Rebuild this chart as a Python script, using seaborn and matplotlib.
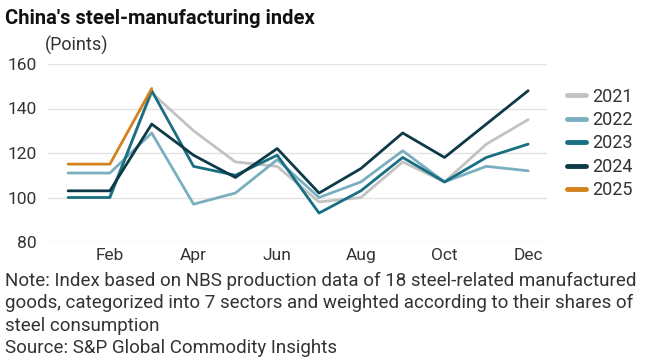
import numpy as np
import pandas as pd
import matplotlib
matplotlib.use("Agg")
import matplotlib.pyplot as plt
import seaborn as sns

months = list(range(1, 13))
month_labels = ["Jan", "Feb", "Mar", "Apr", "May", "Jun", "Jul", "Aug", "Sep", "Oct", "Nov", "Dec"]
years = ["2021", "2022", "2023", "2024", "2025"]
v2021 = [np.nan, 101, 147, 130, 116, 114, 98, 100, 116, 107, 124, 135]
v2022 = [111, 111, 129, 97, 102, 117, 100, 107, 121, 107, 114, 112]
v2023 = [100, 100, 148, 114, 110, 119, 93, 103, 118, 107, 118, 124]
v2024 = [103, 103, 133, 119, 109, 122, 102, 113, 129, 118, 133, 148]
v2025 = [115, 115, 149] + [np.nan] * 9
colors = ["#c2c2c2", "#7aafbf", "#186f82", "#0e3a48", "#d4831c"]

series = {"2021": v2021, "2022": v2022, "2023": v2023, "2024": v2024, "2025": v2025}
rows = []
for y in years:
    for m, v in zip(months, series[y]):
        rows.append({"month": m, "value": v, "year": y})
df = pd.DataFrame(rows)

sns.set_theme(style="white")
plt.rcParams["font.family"] = ["Roboto", "DejaVu Sans"]
txt = "#333333"

fig = plt.figure(figsize=(6.53, 3.62), dpi=100)
ax = fig.add_axes([48 / 653, 1 - 242 / 362, (547 - 48) / 653, (242 - 64) / 362])

for y, c in zip(years, colors):
    d = df[df["year"] == y].dropna()
    sns.lineplot(data=d, x="month", y="value", color=c, linewidth=2.0, ax=ax, label=y)

ax.set_xlim(0.52, 12.45)
ax.set_ylim(80, 160)
ax.set_yticks([80, 100, 120, 140, 160])
ax.set_xticks([2, 4, 6, 8, 10, 12])
ax.set_xticklabels([month_labels[i - 1] for i in [2, 4, 6, 8, 10, 12]])
ax.grid(axis="y", color="#e3e3e3", linewidth=1.0)
ax.set_axisbelow(True)
for s in ax.spines.values():
    s.set_visible(False)
ax.tick_params(axis="both", length=0, labelsize=12.5, colors=txt)
ax.tick_params(axis="y", pad=8)
ax.tick_params(axis="x", pad=4)
ax.set_xlabel("")
ax.set_ylabel("")

leg = ax.legend(loc="upper left", bbox_to_anchor=(0.858, 0.778), bbox_transform=fig.transFigure,
                frameon=False, handlelength=1.0, handletextpad=0.35, labelspacing=0.3,
                fontsize=13, borderaxespad=0)
for h in leg.get_lines():
    h.set_linewidth(3.5)
for t in leg.get_texts():
    t.set_color(txt)

fig.text(5 / 653, 1 - 18 / 362, "China's steel-manufacturing index", fontsize=14.5, fontweight="bold",
         color="#111111", va="center", ha="left")
fig.text(45 / 653, 1 - 45 / 362, "(Points)", fontsize=13, color=txt, va="center", ha="left")
notes = ["Note: Index based on NBS production data of 18 steel-related manufactured",
         "goods, categorized into 7 sectors and weighted according to their shares of",
         "steel consumption",
         "Source: S&P Global Commodity Insights"]
for i, line in enumerate(notes):
    fig.text(5 / 653, 1 - (281 + 22.3 * i) / 362, line, fontsize=13.5, color=txt, va="center", ha="left")

fig.savefig("out.png", dpi=100)
